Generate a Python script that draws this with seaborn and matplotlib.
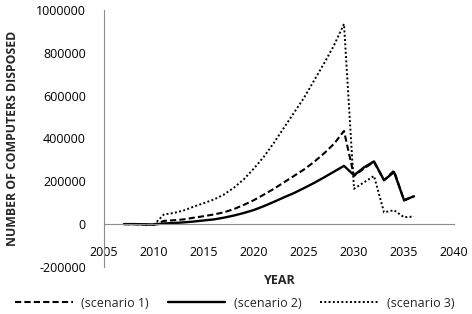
import pandas as pd
import matplotlib
matplotlib.use("Agg")
import matplotlib.pyplot as plt
import seaborn as sns

sns.set_style("white")
plt.rcParams['font.family'] = ['Open Sans', 'DejaVu Sans']

# Datos (computadoras desechadas por anio)
years = list(range(2007, 2037))
scenario1 = [0, 0, -2000, -3000, 15000, 18000, 22000, 30000, 37000, 45000,
             55000, 70000, 90000, 112000, 138000, 165000, 195000, 225000, 255000, 290000,
             330000, 375000, 435000, 225000, 260000, 290000, 205000, 250000, 110000, 130000]
scenario2 = [0, 0, -1000, -2000, 3000, 5000, 8000, 12000, 17000, 22000,
             30000, 40000, 52000, 66000, 84000, 104000, 125000, 145000, 168000, 192000,
             218000, 245000, 272000, 228000, 265000, 293000, 205000, 243000, 112000, 130000]
scenario3 = [0, 0, -2000, -3000, 45000, 52000, 64000, 82000, 98000, 115000,
             138000, 170000, 210000, 260000, 315000, 380000, 450000, 520000, 590000, 670000,
             750000, 835000, 935000, 165000, 195000, 225000, 55000, 65000, 32000, 35000]
labels = ["(scenario 1)", "(scenario 2)", "(scenario 3)"]

df = pd.DataFrame({"year": years, labels[0]: scenario1,
                   labels[1]: scenario2, labels[2]: scenario3})

fig = plt.figure(figsize=(4.72, 3.14), dpi=100)
ax = fig.add_axes([0.220, 0.150, 0.742, 0.818])

sns.lineplot(data=df, x="year", y=labels[0], ax=ax, color="black", lw=1.5,
             label=labels[0], dashes=(3, 1.5))
sns.lineplot(data=df, x="year", y=labels[1], ax=ax, color="black", lw=1.7,
             label=labels[1])
sns.lineplot(data=df, x="year", y=labels[2], ax=ax, color="black", lw=1.4,
             label=labels[2], dashes=(1, 1.2))

ax.set_xlim(2005, 2040)
ax.set_ylim(-200000, 1000000)
ax.set_xticks(range(2005, 2041, 5))
ax.set_yticks(range(-200000, 1000001, 200000))
ax.set_yticklabels([str(v) for v in range(-200000, 1000001, 200000)])

for s in ["top", "right"]:
    ax.spines[s].set_visible(False)
ax.spines["left"].set_color("#8c8c8c")
ax.spines["bottom"].set_color("#8c8c8c")
ax.spines["bottom"].set_position(("data", 0))
ax.tick_params(axis="y", length=0, pad=13, labelsize=9, labelcolor="black")
ax.tick_params(axis="x", length=0, pad=16, labelsize=9, labelcolor="black")

ax.set_xlabel("")
ax.set_ylabel("")
fig.text(0.026, 0.56, "NUMBER OF COMPUTERS DISPOSED", rotation=90, ha="center",
         va="center", fontsize=8.8, fontweight="bold")
fig.text(0.593, 0.108, "YEAR", ha="center", va="center", fontsize=9, fontweight="bold")

ax.get_legend().remove()
handles, labs = ax.get_legend_handles_labels()
fig.legend(handles, labs, loc="center", bbox_to_anchor=(0.497, 0.035), ncol=3,
           frameon=False, fontsize=9, handlelength=4.6, handletextpad=0.7,
           columnspacing=1.5)

fig.savefig("out.png", dpi=100)
